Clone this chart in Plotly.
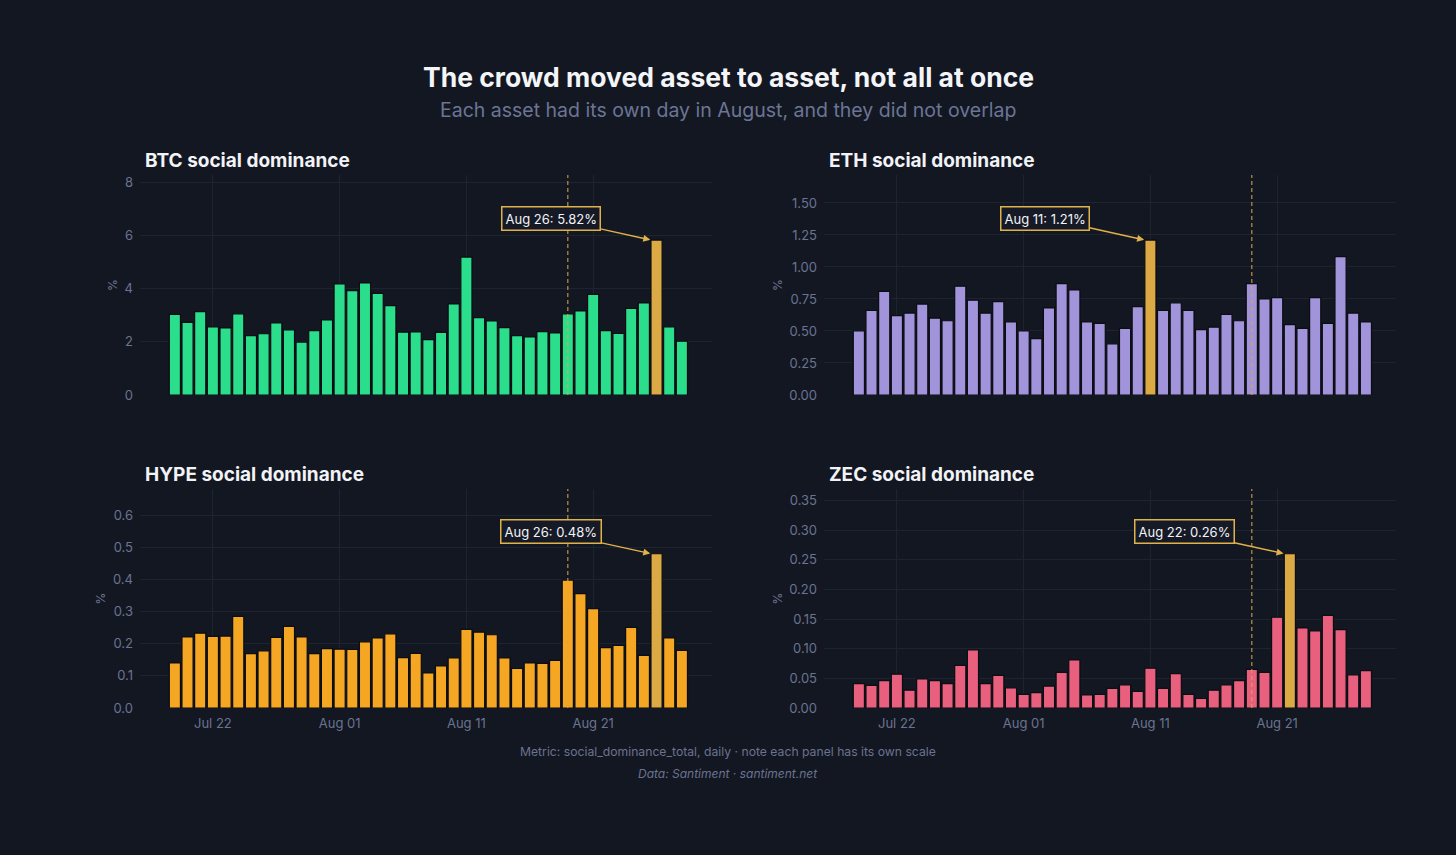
import pandas as pd
import plotly.graph_objs as go

# daily social dominance, Jul 19 - Aug 28
dates = pd.date_range("2025-07-19", "2025-08-28", freq="D")

btc = [3.03, 2.73, 3.13, 2.56, 2.52, 3.05, 2.23, 2.30, 2.71, 2.45,
       1.99, 2.42, 2.82, 4.17, 3.92, 4.21, 3.82, 3.36, 2.36, 2.37,
       2.08, 2.35, 3.42, 5.18, 2.91, 2.78, 2.53, 2.23, 2.18, 2.38,
       2.33, 3.05, 3.16, 3.78, 2.42, 2.31, 3.25, 3.46, 5.82, 2.56, 2.02]
eth = [0.50, 0.66, 0.81, 0.62, 0.64, 0.71, 0.60, 0.58, 0.85, 0.74,
       0.64, 0.73, 0.57, 0.50, 0.44, 0.68, 0.87, 0.82, 0.57, 0.56,
       0.40, 0.52, 0.69, 1.21, 0.66, 0.72, 0.66, 0.51, 0.53, 0.63,
       0.58, 0.87, 0.75, 0.76, 0.55, 0.52, 0.76, 0.56, 1.08, 0.64, 0.57]
hype = [0.140, 0.221, 0.233, 0.223, 0.224, 0.285, 0.169, 0.178, 0.220, 0.254,
        0.221, 0.169, 0.185, 0.183, 0.182, 0.206, 0.218, 0.231, 0.157, 0.170,
        0.109, 0.131, 0.156, 0.245, 0.236, 0.228, 0.156, 0.123, 0.140, 0.139,
        0.148, 0.398, 0.356, 0.309, 0.188, 0.195, 0.251, 0.164, 0.48, 0.218, 0.179]
zec = [0.041, 0.038, 0.046, 0.057, 0.030, 0.049, 0.046, 0.041, 0.072, 0.098,
       0.041, 0.055, 0.034, 0.023, 0.026, 0.037, 0.060, 0.081, 0.022, 0.023,
       0.033, 0.039, 0.028, 0.067, 0.033, 0.058, 0.023, 0.016, 0.030, 0.039,
       0.046, 0.065, 0.060, 0.153, 0.26, 0.135, 0.130, 0.156, 0.132, 0.056, 0.063]

assets = ['BTC', 'ETH', 'HYPE', 'ZEC']
values = [btc, eth, hype, zec]
peaks = ['2025-08-26', '2025-08-11', '2025-08-26', '2025-08-22']
peak_labels = ['Aug 26: 5.82%', 'Aug 11: 1.21%', 'Aug 26: 0.48%', 'Aug 22: 0.26%']
marker_day = '2025-08-19'
dticks = [2, 0.25, 0.1, 0.05]
tickfmts = ['d', '.2f', '.1f', '.2f']

bg = '#131722'
grid = '#1e2330'
muted = '#6b7390'
gold = '#dcaa44'
base_colors = ['#2bde8c', '#a294da', '#f5a623', '#e8607e']
font = 'Inter, Lato, sans-serif'

# pixel boxes of the four panels (x0, x1, ytop, ybottom)
W, H = 1456, 855
PH = 846  # visible paper height in the snapshot
boxes = [(140, 712, 174, 394), (824, 1396, 174, 394),
         (140, 712, 488, 707), (824, 1396, 488, 707)]


def py(y):
    return 1 - y / PH


fig = go.Figure()
shapes = []
annotations = []
layout = dict(
    width=W, height=H,
    margin=dict(l=0, r=0, t=0, b=0),
    paper_bgcolor=bg, plot_bgcolor=bg,
    showlegend=False,
    bargap=0.12,
    hovermode='closest',
    font=dict(family=font, color=muted, size=12),
)

for i, asset in enumerate(assets):
    n = i + 1
    xa = 'x' if n == 1 else 'x%d' % n
    ya = 'y' if n == 1 else 'y%d' % n
    peak = pd.Timestamp(peaks[i])
    colors = [gold if d == peak else base_colors[i] for d in dates]
    fig.add_trace(go.Bar(x=dates, y=values[i], xaxis=xa, yaxis=ya,
                         marker=dict(color=colors, line=dict(color='#0b0d13', width=1.2)),
                         hovertemplate='%{x|%b %d}: %{y}%<extra></extra>'))

    x0, x1, yt, yb = boxes[i]
    top = max(values[i]) * 1.42
    layout['xaxis' + ('' if n == 1 else str(n))] = dict(
        domain=[x0 / W, x1 / W],
        anchor=ya,
        type='date',
        range=['2025-07-16 06:00', '2025-08-30 09:00'],
        tickvals=['2025-07-22', '2025-08-01', '2025-08-11', '2025-08-21'],
        tickformat='%b %d',
        showticklabels=(i >= 2),
        showgrid=True, gridcolor=grid, gridwidth=1,
        zeroline=False, showline=False, ticks='',
        ticklabelstandoff=6,
        tickfont=dict(color=muted, size=13),
    )
    layout['yaxis' + ('' if n == 1 else str(n))] = dict(
        domain=[py(yb), py(yt)],
        anchor=xa,
        range=[0, top],
        dtick=dticks[i],
        tick0=0,
        tickformat=tickfmts[i],
        showgrid=True, gridcolor=grid, gridwidth=1,
        zeroline=False, showline=False, ticks='',
        ticklabelstandoff=6,
        tickfont=dict(color=muted, size=13),
        title=dict(text='%', font=dict(color=muted, size=12), standoff=4),
    )

    # panel title
    annotations.append(dict(text='<b>%s social dominance</b>' % asset,
                            xref='paper', yref='paper', x=(x0 + 3) / W, y=py(yt - 15),
                            xanchor='left', yanchor='middle', showarrow=False,
                            font=dict(family=font, size=19, color='#f2f3f6')))

    # dashed marker line
    shapes.append(dict(type='line', xref=xa, yref=ya + ' domain',
                       x0=marker_day, x1=marker_day, y0=0, y1=1,
                       line=dict(color='rgba(214,168,72,0.85)', width=1.2, dash='4px,3px'),
                       layer='above'))

    # callout for peak day
    tip = peak - pd.Timedelta(hours=10)
    annotations.append(dict(text=peak_labels[i], xref=xa, yref=ya,
                            x=tip, y=max(values[i]),
                            ax=-100, ay=-22,
                            showarrow=True, arrowhead=2, arrowsize=1, arrowwidth=1.4,
                            arrowcolor='#e0b24a', standoff=1,
                            bgcolor='#151a26', bordercolor='#e0b24a', borderwidth=1.5,
                            borderpad=3,
                            font=dict(family=font, size=13, color='#f2f3f6')))

annotations.append(dict(text='<b>The crowd moved asset to asset, not all at once</b>',
                        xref='paper', yref='paper', x=0.5, y=py(76),
                        xanchor='center', yanchor='middle', showarrow=False,
                        font=dict(family=font, size=26.5, color='#f4f5f8')))
annotations.append(dict(text='Each asset had its own day in August, and they did not overlap',
                        xref='paper', yref='paper', x=0.5, y=py(109),
                        xanchor='center', yanchor='middle', showarrow=False,
                        font=dict(family=font, size=19.5, color='#6c7594')))
annotations.append(dict(text='Metric: social_dominance_total, daily · note each panel has its own scale',
                        xref='paper', yref='paper', x=0.5, y=py(750),
                        xanchor='center', yanchor='middle', showarrow=False,
                        font=dict(family=font, size=12.2, color=muted)))
annotations.append(dict(text='<i>Data: Santiment · santiment.net</i>',
                        xref='paper', yref='paper', x=0.5, y=py(772),
                        xanchor='center', yanchor='middle', showarrow=False,
                        font=dict(family=font, size=12, color=muted)))

layout['shapes'] = shapes
layout['annotations'] = annotations
fig.update_layout(**layout)

# drop the browser's default page margin so the figure fills the window
fig.write_html("out.html", config={'displayModeBar': False},
               post_script="document.body.style.margin='0';document.body.style.overflow='hidden';")
